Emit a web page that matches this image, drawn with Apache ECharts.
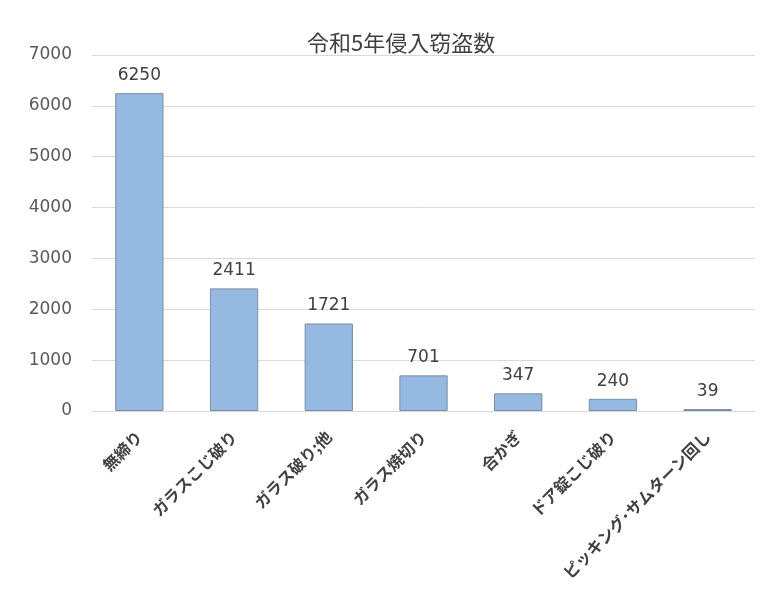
<!DOCTYPE html>
<html><head><meta charset="utf-8">
<script src="https://cdn.jsdelivr.net/npm/echarts@6/dist/echarts.min.js"></script>
<style>html,body{margin:0;padding:0;background:#fff}#c{width:770px;height:608px}</style>
</head><body><div id="c"></div>
<script>
const categories = ["無締り","ガラスこじ破り","ガラス破り;他","ガラス焼切り","合かぎ","ドア錠こじ破り","ピッキング･サムターン回し"];
const values = [6250, 2411, 1721, 701, 347, 240, 39];
const yTicks = [0, 1000, 2000, 3000, 4000, 5000, 6000, 7000];
const title = "令和5年侵入窃盗数";

const chart = echarts.init(document.getElementById('c'), null, {renderer:'canvas'});
chart.setOption({
  animation:false,
  backgroundColor:'#fff',
  title:{text:title,left:302,top:27,textStyle:{fontFamily:'Noto Sans CJK JP',fontSize:22,fontWeight:'normal',color:'#404040'}},
  grid:{left:92,right:15,top:55,bottom:197,containLabel:false},
  xAxis:{type:'category',data:categories,
    axisLine:{lineStyle:{color:'#d9d9d9'}},axisTick:{show:false},
    axisLabel:{rotate:45,interval:0,margin:23,fontFamily:'Noto Sans CJK JP',fontWeight:'bold',fontSize:16,color:'#404040'}},
  yAxis:{type:'value',min:yTicks[0],max:yTicks[yTicks.length-1],interval:1000,
    axisLine:{show:false},axisTick:{show:false},
    splitLine:{lineStyle:{color:'#d9d9d9'}},
    axisLabel:{fontFamily:'DejaVu Sans',fontSize:17,color:'#595959',margin:20,formatter:v=>String(v)}},
  series:[{type:'bar',data:values,barWidth:'51%',
    itemStyle:{color:'#95b9e0',borderColor:'#7a8ea6',borderWidth:1},
    label:{show:true,position:'top',distance:9,fontFamily:'DejaVu Sans',fontSize:17,color:'#404040'}}]
});
</script></body></html>
